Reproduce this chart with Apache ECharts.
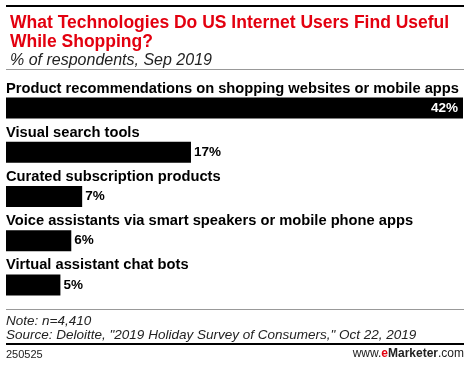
<!DOCTYPE html>
<html><head><meta charset="utf-8">
<script src="https://cdn.jsdelivr.net/npm/echarts@6/dist/echarts.min.js"></script>
<style>html,body{margin:0;padding:0;background:#fff}#c{width:470px;height:365px}</style>
</head><body><div id="c"></div>
<script>
const categories = [
  "Product recommendations on shopping websites or mobile apps",
  "Visual search tools",
  "Curated subscription products",
  "Voice assistants via smart speakers or mobile phone apps",
  "Virtual assistant chat bots"
];
const values = [42, 17, 7, 6, 5];
const titleText = "What Technologies Do US Internet Users Find Useful\nWhile Shopping?";
const subtitleText = "% of respondents, Sep 2019";
const noteText = "Note: n=4,410";
const sourceText = "Source: Deloitte, \"2019 Holiday Survey of Consumers,\" Oct 22, 2019";
const chartId = "250525";

const FONT = "Liberation Sans";
const chart = echarts.init(document.getElementById('c'), null, {renderer: 'canvas'});
chart.setOption({
  animation: false,
  backgroundColor: '#fff',
  title: {
    text: titleText,
    subtext: subtitleText,
    left: 5, top: 9,
    itemGap: 0,
    textStyle: {fontFamily: FONT, fontWeight: 'bold', fontSize: 17.5, color: '#e3000f', lineHeight: 19},
    subtextStyle: {fontFamily: FONT, fontStyle: 'italic', fontSize: 16, color: '#222', lineHeight: 17}
  },
  grid: {left: 6, right: 7, top: 86, bottom: 58, containLabel: false},
  xAxis: {type: 'value', min: 0, max: 42, show: false},
  yAxis: {
    type: 'category', data: categories, inverse: true,
    axisLine: {show: false}, axisTick: {show: false}, splitLine: {show: false},
    axisLabel: {
      inside: true, margin: 0, align: 'left', verticalAlign: 'bottom',
      padding: [0, 0, 12, 0],
      fontFamily: FONT, fontWeight: 'bold', fontSize: 14.7, color: '#000'
    }
  },
  series: [{
    type: 'bar', data: values.map((v, i) => ({
      value: v,
      label: i === 0 ? {position: 'insideRight', color: '#fff', distance: 5} : {position: 'right', color: '#000', distance: 3}
    })),
    barWidth: 21,
    itemStyle: {color: '#000'},
    label: {show: true, formatter: '{c}%', fontFamily: FONT, fontWeight: 'bold', fontSize: 13.5}
  }],
  graphic: [
    {type: 'rect', shape: {x: 6, y: 5, width: 458, height: 2}, style: {fill: '#000'}},
    {type: 'rect', shape: {x: 6, y: 69, width: 458, height: 1}, style: {fill: '#999'}},
    {type: 'rect', shape: {x: 6, y: 309, width: 458, height: 1}, style: {fill: '#999'}},
    {type: 'text', left: 6, top: 314, style: {text: noteText, fontFamily: FONT, fontStyle: 'italic', fontSize: 13.5, fill: '#222'}},
    {type: 'text', left: 6, top: 328, style: {text: sourceText, fontFamily: FONT, fontStyle: 'italic', fontSize: 13.5, fill: '#222'}},
    {type: 'rect', shape: {x: 6, y: 343, width: 458, height: 2}, style: {fill: '#000'}},
    {type: 'text', left: 6, top: 349, style: {text: chartId, fontFamily: FONT, fontSize: 11, fill: '#222'}},
    {type: 'text', right: 6, top: 348, style: {
      text: '{a|www.}{b|e}{c|Marketer}{a|.com}',
      rich: {
        a: {fontFamily: FONT, fontSize: 12, fill: '#222'},
        b: {fontFamily: FONT, fontSize: 12, fontWeight: 'bold', fill: '#e3000f'},
        c: {fontFamily: FONT, fontSize: 12, fontWeight: 'bold', fill: '#222'}
      }
    }}
  ]
});
</script></body></html>
